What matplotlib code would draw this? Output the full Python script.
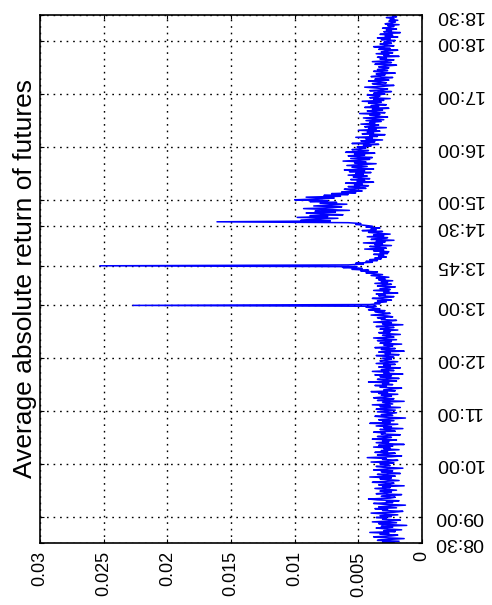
import numpy as np
import matplotlib
matplotlib.use("Agg")
import matplotlib.pyplot as plt

plt.rcParams['font.family'] = ['Liberation Sans', 'DejaVu Sans']

# Average absolute return (units of 1e-4), one value per minute, per half-hour block
seg_0830 = [22,31,18,35,27,14,29,38,24,19,33,26,41,21,30,16,28,36,23,32,12,27,34,20,39,25,17,31,28,36]
seg_0900 = [24,33,19,29,40,22,15,31,27,37,20,34,26,13,30,38,23,28,18,35,42,25,21,32,27,16,36,29,24,33]
seg_0930 = [20,28,37,25,31,14,34,26,22,39,30,18,27,33,24,41,21,29,35,17,26,32,23,38,28,15,30,36,25,27]
seg_1000 = [33,22,40,26,19,31,28,43,24,16,35,29,21,37,27,32,18,30,25,38,23,34,14,28,36,26,31,20,39,29]
seg_1030 = [24,35,27,17,32,29,38,21,26,33,15,30,24,36,28,19,41,25,31,22,34,27,13,29,37,23,32,26,20,35]
seg_1100 = [28,21,36,30,17,33,25,39,23,27,31,14,35,26,22,38,29,24,32,19,34,27,40,21,30,25,16,33,28,37]
seg_1130 = [23,31,26,42,20,29,35,18,27,33,24,37,15,30,26,39,22,32,28,17,34,25,30,21,36,27,19,33,29,24]
seg_1200 = [31,22,27,36,18,29,25,34,14,28,32,21,37,26,23,30,16,33,27,24,35,20,29,38,22,26,31,17,28,34]
seg_1230 = [25,30,19,33,27,22,36,28,15,31,24,38,26,20,32,29,35,23,27,40,30,25,34,37,29,42,33,38,44,36]
seg_1300 = [227,41,33,37,28,35,24,31,39,27,22,34,29,36,19,30,26,38,25,33,28,21,35,30,24,37,27,32,23,34]
seg_1330 = [29,36,26,33,40,31,38,44,35,48,42,55,47,62,51,253,58,46,52,39,44,35,41,32,37,28,34,30,38,27]
seg_1400 = [33,26,38,30,45,28,35,41,24,37,31,46,29,36,22,40,33,27,43,30,38,25,35,42,31,47,36,40,33,44]
seg_1430 = [39,45,52,48,58,161,72,95,81,66,98,74,88,62,79,91,68,84,57,76,93,70,63,85,72,59,80,67,88,74]
seg_1500 = [100,82,69,91,64,77,58,71,52,63,47,55,61,44,50,58,42,53,47,60,38,51,45,56,41,49,54,43,58,46]
seg_1530 = [52,40,57,45,61,38,49,55,43,59,47,36,53,44,62,48,41,56,39,50,58,45,53,37,60,47,42,55,49,44]
seg_1600 = [51,40,46,34,55,42,37,48,31,44,39,52,35,41,29,47,38,43,33,50,36,42,28,45,39,34,48,37,41,32]
seg_1630 = [44,30,38,46,27,35,41,33,49,29,37,43,31,39,26,45,34,40,28,36,42,32,47,30,38,25,41,35,33,43]
seg_1700 = [29,38,34,24,41,31,27,36,45,30,22,35,39,28,33,42,26,37,31,23,40,34,29,36,21,32,38,27,35,30]
seg_1730 = [26,34,29,20,37,31,24,39,27,22,33,28,35,18,30,26,36,23,32,29,19,34,25,31,38,22,28,33,24,30]
seg_1800 = [27,21,32,25,35,19,29,23,33,26,17,30,24,28,20,31,25,22,27,18,29,24,21,26,19,25,22,28,20,23,21]

segments = [seg_0830, seg_0900, seg_0930, seg_1000, seg_1030, seg_1100, seg_1130,
            seg_1200, seg_1230, seg_1300, seg_1330, seg_1400, seg_1430, seg_1500,
            seg_1530, seg_1600, seg_1630, seg_1700, seg_1730, seg_1800]
seg_starts = ["08:30","09:00","09:30","10:00","10:30","11:00","11:30","12:00","12:30",
              "13:00","13:30","14:00","14:30","15:00","15:30","16:00","16:30","17:00",
              "17:30","18:00"]

tick_labels = ["08:30","09:00","10:00","11:00","12:00","13:00","13:45","14:30",
               "15:00","16:00","17:00","18:00","18:30"]
value_ticks = [0, 0.005, 0.01, 0.015, 0.02, 0.025, 0.03]
value_tick_labels = ["0", "0.005", "0.01", "0.015", "0.02", "0.025", "0.03"]
title = "Average absolute return of futures"

def to_min(s):
    h, m = s.split(":")
    return int(h) * 60 + int(m)

times, vals = [], []
for start, seg in zip(seg_starts, segments):
    t0 = to_min(start)
    for k, v in enumerate(seg):
        times.append(t0 + k)
        vals.append(v * 1e-4)
times = np.array(times)
vals = np.array(vals)

W, H = 492, 605
fig = plt.figure(figsize=(W/100, H/100), dpi=100)
ax = fig.add_axes([40/W, 1 - 543/H, (422-40)/W, (543-15)/H])

ax.plot(vals, times, color=(0, 0, 1), lw=1.1)

ax.set_xlim(0.03, 0)
ax.set_ylim(to_min("08:30"), to_min("18:30"))

ax.set_xticks(value_ticks)
ax.set_xticklabels(value_tick_labels, rotation=90, fontsize=13)
ax.set_yticks([to_min(t) for t in tick_labels])
ax.yaxis.tick_right()
ax.set_yticklabels(tick_labels, rotation=180, fontsize=14, va='center')

ax.tick_params(axis='x', direction='in', length=3, pad=6, top=True, width=0.8)
ax.tick_params(axis='y', direction='in', length=3, pad=9, left=True, right=True, width=0.8)

ax.grid(True, color='black', linestyle=(0, (1.2, 3.5)), lw=1.0)
for sp in ax.spines.values():
    sp.set_linewidth(1.2)
    sp.set_color('black')

fig.text(25/W, 1 - 278/H, title, rotation=90, ha='center', va='center', fontsize=19)

fig.savefig("out.png", dpi=100)
